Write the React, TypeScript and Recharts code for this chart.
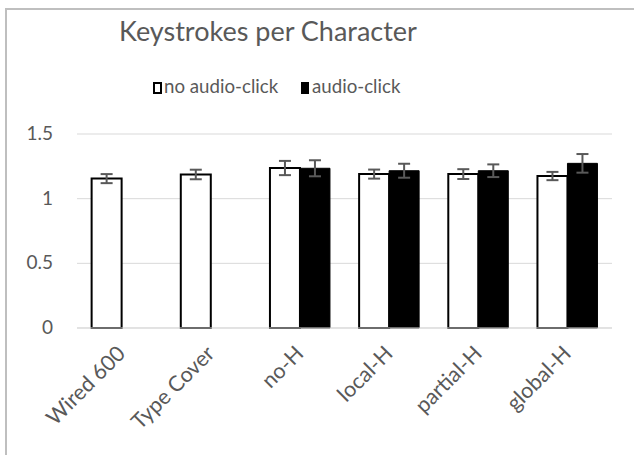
import React from 'react';
import { BarChart, Bar, XAxis, YAxis, CartesianGrid, ErrorBar, Legend } from 'recharts';

const categories = ['Wired 600', 'Type Cover', 'no-H', 'local-H', 'partial-H', 'global-H'];
const noClick = [1.155, 1.187, 1.237, 1.19, 1.19, 1.175];
const noClickErr = [0.035, 0.037, 0.055, 0.035, 0.038, 0.032];
const click: (number | null)[] = [null, null, 1.235, 1.216, 1.216, 1.273];
const clickErr: (number | null)[] = [null, null, 0.062, 0.054, 0.049, 0.072];
const yTicks = [0, 0.5, 1, 1.5];

const data = categories.map((c, i) => ({
  name: c,
  noClick: noClick[i],
  noClickErr: noClickErr[i],
  click: click[i],
  clickErr: clickErr[i],
}));

const FONT = "Lato, 'Open Sans', sans-serif";
const TEXT = '#595959';

const XTick = (props: any) => {
  const { x, y, payload } = props;
  const ax = x + 5;
  const ay = y + 27;
  return (
    <text
      x={ax}
      y={ay}
      transform={`rotate(-45, ${ax}, ${ay})`}
      textAnchor="end"
      fill={TEXT}
      fontSize={21.5}
      fontFamily={FONT}
    >
      {payload.value}
    </text>
  );
};

const YTick = (props: any) => {
  const { y, payload } = props;
  return (
    <text x={53} y={y + 6} textAnchor="end" fill={TEXT} fontSize={19} fontFamily={FONT}>
      {payload.value}
    </text>
  );
};

const LegendContent = () => (
  <svg width={634} height={30} style={{ display: 'block' }}>
    <rect x={154} y={9} width={7} height={10} fill="#fff" stroke="#000" strokeWidth={2} />
    <text x={164} y={19} fill={TEXT} fontSize={18.7} fontFamily={FONT}>no audio-click</text>
    <rect x={301} y={8} width={8} height={12} fill="#000" />
    <text x={312} y={19} fill={TEXT} fontSize={18.7} fontFamily={FONT}>audio-click</text>
  </svg>
);

export default function App() {
  return (
    <div style={{ position: 'absolute', left: 0, top: 0, width: 634, height: 455, background: '#fff', overflow: 'hidden' }}>
      <div
        style={{
          position: 'absolute',
          left: 5,
          top: 8,
          width: 700,
          height: 500,
          borderLeft: '2px solid #bfbfbf',
          borderTop: '2px solid #bfbfbf',
          boxSizing: 'border-box',
        }}
      />
      <svg width={634} height={60} style={{ position: 'absolute', left: 0, top: 0 }}>
        <text x={268} y={41} textAnchor="middle" fill={TEXT} fontSize={27} fontFamily={FONT}>
          Keystrokes per Character
        </text>
      </svg>
      <div style={{ position: 'absolute', left: 0, top: 0 }}>
        <BarChart
          width={634}
          height={455}
          data={data}
          margin={{ top: 104, right: 22, bottom: 0, left: 0 }}
          barCategoryGap="16.4%"
          barGap={0}
        >
          <CartesianGrid vertical={false} stroke="#d9d9d9" strokeWidth={1} />
          <Legend
            verticalAlign="top"
            content={<LegendContent />}
            wrapperStyle={{ left: 0, top: 74, width: 634, height: 30 }}
          />
          <XAxis
            dataKey="name"
            interval={0}
            height={127}
            tickLine={false}
            tickSize={0}
            tickMargin={0}
            axisLine={{ stroke: '#d9d9d9', strokeWidth: 1 }}
            tick={<XTick />}
          />
          <YAxis
            width={77}
            domain={[0, 1.5]}
            ticks={yTicks}
            axisLine={false}
            tickLine={false}
            tick={<YTick />}
          />
          <Bar dataKey="noClick" fill="#ffffff" stroke="#000000" strokeWidth={2} isAnimationActive={false}>
            <ErrorBar dataKey="noClickErr" width={6} stroke="#595959" strokeWidth={2} />
          </Bar>
          <Bar dataKey="click" fill="#000000" stroke="#000000" strokeWidth={1} isAnimationActive={false}>
            <ErrorBar dataKey="clickErr" width={6} stroke="#595959" strokeWidth={2} />
          </Bar>
        </BarChart>
      </div>
    </div>
  );
}
